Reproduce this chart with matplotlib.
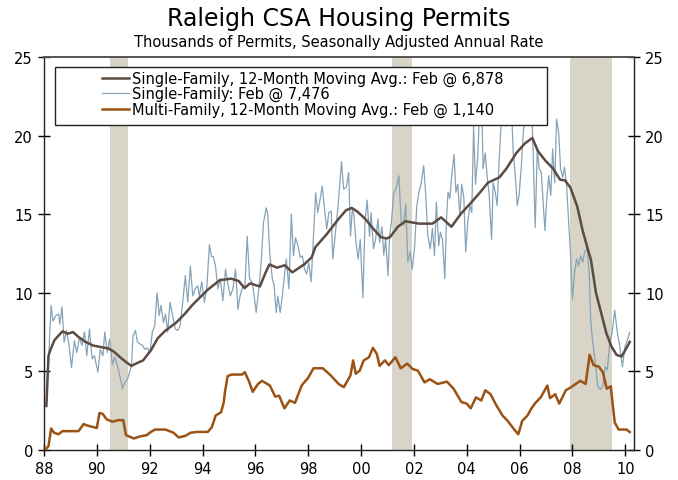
import matplotlib
matplotlib.use("Agg")
import matplotlib.pyplot as plt
from matplotlib.patches import Rectangle

# ---------------- data ----------------
raw_years = [1988.09,1988.27,1988.34,1988.45,1988.55,1988.60,1988.68,1988.76,1988.85,1988.95,
 1989.04,1989.15,1989.24,1989.34,1989.44,1989.53,1989.62,1989.72,1989.82,1989.91,
 1990.04,1990.13,1990.23,1990.30,1990.40,1990.48,1990.59,1990.68,1990.78,1990.87,1990.97,
 1991.06,1991.16,1991.22,1991.31,1991.37,1991.46,1991.54,1991.63,1991.73,1991.82,1991.91,
 1992.01,1992.10,1992.19,1992.28,1992.36,1992.43,1992.52,1992.60,1992.68,1992.77,1992.87,1992.97,
 1993.06,1993.15,1993.25,1993.35,1993.44,1993.54,1993.63,1993.72,1993.82,1993.88,1993.97,
 1994.07,1994.16,1994.26,1994.34,1994.41,1994.49,1994.58,1994.67,1994.77,1994.87,1994.96,
 1995.05,1995.15,1995.25,1995.34,1995.42,1995.53,1995.60,1995.69,1995.78,1995.87,1995.94,
 1996.03,1996.13,1996.22,1996.31,1996.41,1996.47,1996.54,1996.64,1996.71,1996.79,1996.85,1996.94,
 1997.02,1997.10,1997.17,1997.27,1997.36,1997.44,1997.52,1997.61,1997.70,1997.78,1997.86,1997.94,
 1998.02,1998.11,1998.17,1998.28,1998.36,1998.43,1998.53,1998.62,1998.70,1998.78,1998.87,1998.93,
 1999.03,1999.12,1999.19,1999.26,1999.34,1999.44,1999.53,1999.60,1999.67,1999.73,1999.82,1999.89,1999.97,
 2000.07,2000.15,2000.23,2000.32,2000.38,2000.47,2000.55,2000.64,2000.70,2000.79,2000.86,2000.93,
 2001.02,2001.08,2001.15,2001.23,2001.33,2001.43,2001.52,2001.61,2001.69,2001.77,2001.86,2001.94,
 2002.03,2002.11,2002.19,2002.28,2002.37,2002.44,2002.53,2002.62,2002.70,2002.78,2002.85,2002.94,
 2003.00,2003.08,2003.17,2003.23,2003.29,2003.36,2003.43,2003.52,2003.59,2003.66,2003.74,2003.81,2003.89,2003.96,
 2004.04,2004.12,2004.19,2004.26,2004.33,2004.41,2004.48,2004.55,2004.62,2004.70,2004.77,2004.85,2004.94,
 2005.00,2005.08,2005.15,2005.23,2005.32,2005.40,2005.48,2005.54,2005.61,2005.68,2005.76,2005.83,2005.91,2005.98,
 2006.06,2006.14,2006.21,2006.29,2006.36,2006.44,2006.52,2006.59,2006.67,2006.74,2006.82,2006.89,2006.96,
 2007.02,2007.10,2007.18,2007.25,2007.33,2007.40,2007.48,2007.55,2007.63,2007.70,2007.78,2007.85,2007.93,
 2008.00,2008.08,2008.16,2008.23,2008.31,2008.39,2008.46,2008.56,2008.64,2008.69,2008.76,2008.85,2008.96,
 2009.06,2009.15,2009.24,2009.32,2009.41,2009.50,2009.60,2009.70,2009.79,2009.89,2009.99,2010.08,2010.17]
raw_sf = [2.8,9.2,8.2,8.55,8.65,8.0,9.1,6.85,7.6,6.65,
 5.25,6.95,6.2,7.15,6.65,7.5,6.0,7.7,5.8,6.0,
 4.95,6.4,6.0,7.5,6.2,7.05,5.45,5.9,5.35,4.7,3.9,
 4.3,4.5,4.85,5.35,7.25,7.6,6.85,6.75,6.65,6.4,6.5,
 6.2,7.5,7.9,10.0,8.55,9.2,8.1,8.65,7.5,9.4,8.55,7.7,
 7.6,7.9,9.4,11.1,9.4,11.7,9.8,10.25,10.45,9.8,10.7,
 9.4,10.25,13.05,12.3,12.3,11.7,10.25,10.9,9.5,11.5,10.55,
 9.8,10.25,11.5,8.95,9.8,10.45,10.25,13.6,10.9,10.7,10.0,
 8.75,10.25,11.95,14.5,15.4,15.0,12.6,10.9,10.45,8.75,9.8,8.75,
 9.8,11.1,12.15,10.25,15.0,12.35,13.5,13.0,12.25,12.35,11.5,11.2,
 11.9,10.7,12.6,16.35,15.1,15.75,16.8,15.3,14.05,15.1,15.2,12.15,
 13.85,15.35,16.8,18.35,16.6,16.7,17.65,13.6,15.35,14.9,13.0,12.15,13.4,
 9.7,14.5,15.9,13.6,15.1,12.8,13.4,14.7,13.2,14.2,12.4,13.4,
 11.1,13.6,14.5,16.3,16.7,17.45,14.5,14.3,15.65,11.95,12.6,11.5,
 13.0,15.55,16.4,17.0,18.1,16.4,13.6,12.8,14.1,12.35,15.75,13.0,
 13.85,13.4,10.9,14.5,16.4,16.0,17.45,18.8,16.4,16.9,14.9,16.9,16.0,12.6,
 14.5,15.55,15.1,20.6,16.9,18.5,21.3,23.2,17.9,18.9,17.45,16.2,13.4,
 17.0,16.4,15.55,18.5,21.4,21.9,20.6,21.9,21.05,22.3,18.9,17.65,15.55,16.2,
 17.9,20.2,21.05,22.3,21.4,23.0,18.5,14.15,19.15,17.9,17.65,15.75,13.95,
 15.75,17.45,16.2,19.15,17.0,21.05,20.2,17.9,17.35,18.0,16.8,14.7,12.35,
 9.6,11.3,12.15,11.7,12.35,11.95,12.6,12.8,11.1,8.3,7.0,5.75,4.05,
 3.85,4.05,5.3,5.1,6.8,7.45,8.9,7.45,6.6,5.3,6.6,7.0,7.48]

sf_ma_years = [1988.09,1988.17,1988.25,1988.40,1988.70,1988.90,1989.10,1989.30,1989.55,1989.85,
 1990.15,1990.45,1990.65,1990.95,1991.30,1991.55,1991.75,1992.05,1992.30,1992.60,
 1993.00,1993.35,1993.63,1994.20,1994.65,1995.08,1995.37,1995.59,1995.80,1996.17,
 1996.39,1996.53,1996.82,1997.11,1997.40,1997.84,1998.13,1998.27,1998.71,1999.15,
 1999.43,1999.65,1999.87,2000.16,2000.45,2000.74,2000.96,2001.10,2001.39,2001.68,
 2002.19,2002.70,2003.03,2003.42,2003.79,2004.20,2004.51,2004.80,2005.24,2005.50,
 2005.88,2006.20,2006.48,2006.70,2006.98,2007.27,2007.53,2007.72,2007.92,2008.18,
 2008.38,2008.57,2008.70,2008.89,2009.09,2009.28,2009.47,2009.67,2009.86,2010.05,2010.17]
sf_ma = [2.8,6.0,6.4,7.0,7.55,7.4,7.5,7.2,6.9,6.65,
 6.55,6.45,6.25,5.8,5.35,5.55,5.7,6.35,7.1,7.6,
 8.1,8.7,9.25,10.2,10.8,10.9,10.75,10.3,10.6,10.4,
 11.3,11.8,11.6,11.75,11.3,11.8,12.25,12.9,13.75,14.7,
 15.25,15.4,15.15,14.7,14.1,13.55,13.45,13.55,14.2,14.55,
 14.4,14.4,14.8,14.2,15.05,15.8,16.4,17.0,17.35,17.9,
 18.9,19.5,19.85,19.0,18.4,17.9,17.2,17.15,16.7,15.5,
 14.0,12.85,12.1,10.0,8.7,7.45,6.6,6.05,5.95,6.5,6.88]

mf_ma_years = [1988.09,1988.17,1988.27,1988.38,1988.55,1988.70,1989.00,1989.30,1989.35,1989.50,
 1989.65,1990.00,1990.10,1990.22,1990.37,1990.60,1990.80,1991.00,1991.10,1991.40,
 1991.60,1991.90,1992.00,1992.20,1992.60,1992.90,1993.10,1993.35,1993.55,1993.80,
 1994.20,1994.35,1994.50,1994.70,1994.80,1994.85,1994.95,1995.10,1995.50,1995.60,
 1995.75,1995.90,1996.10,1996.25,1996.55,1996.75,1996.90,1997.10,1997.30,1997.50,
 1997.75,1998.00,1998.20,1998.55,1998.85,1999.15,1999.35,1999.60,1999.70,1999.80,
 1999.95,2000.10,2000.30,2000.45,2000.60,2000.70,2000.90,2001.05,2001.30,2001.50,
 2001.75,2001.95,2002.15,2002.40,2002.60,2002.90,2003.25,2003.50,2003.80,2004.00,
 2004.15,2004.35,2004.55,2004.70,2004.90,2005.10,2005.35,2005.55,2005.80,2005.95,
 2006.10,2006.30,2006.45,2006.60,2006.80,2007.05,2007.15,2007.35,2007.50,2007.75,
 2007.95,2008.30,2008.50,2008.65,2008.80,2009.00,2009.15,2009.30,2009.45,2009.60,
 2009.75,2010.05,2010.17]
mf_ma = [0.1,0.25,1.37,1.1,1.0,1.2,1.2,1.2,1.3,1.65,
 1.55,1.4,2.35,2.3,1.95,1.8,1.9,1.9,0.95,0.73,
 0.85,0.95,1.1,1.3,1.3,1.1,0.8,0.9,1.1,1.15,
 1.15,1.45,2.2,2.4,3.0,3.7,4.7,4.8,4.8,4.95,
 4.4,3.7,4.2,4.4,4.1,3.4,3.45,2.65,3.15,3.0,
 4.1,4.6,5.2,5.2,4.75,4.2,4.0,4.75,5.7,4.85,
 5.05,5.7,5.9,6.5,6.1,5.35,5.7,5.4,5.9,5.2,
 5.5,5.15,5.05,4.3,4.5,4.2,4.35,3.9,3.05,2.95,
 2.65,3.35,3.15,3.8,3.55,2.9,2.2,1.85,1.3,1.0,
 1.85,2.2,2.65,3.0,3.35,4.1,3.3,3.55,2.95,3.8,
 4.0,4.4,4.2,6.05,5.4,5.3,4.95,3.9,4.05,1.75,
 1.3,1.3,1.14]

recessions = [(1990.48, 1991.17), (2001.18, 2001.92), (2007.90, 2009.50)]
x_ticks = [1988, 1990, 1992, 1994, 1996, 1998, 2000, 2002, 2004, 2006, 2008, 2010]
x_labels = ["88", "90", "92", "94", "96", "98", "00", "02", "04", "06", "08", "10"]
y_ticks = [0, 5, 10, 15, 20, 25]

legend_labels = ["Single-Family, 12-Month Moving Avg.: Feb @ 6,878",
                 "Single-Family: Feb @ 7,476",
                 "Multi-Family, 12-Month Moving Avg.: Feb @ 1,140"]

# ---------------- styling ----------------
C_MA = "#5b4b42"
C_RAW = "#86a3b8"
C_MF = "#9a5314"
C_REC = "#d8d4c8"

plt.rcParams["font.family"] = ["DejaVu Sans"]

W, H = 678, 481
fig = plt.figure(figsize=(W/100, H/100), dpi=100)
ax = fig.add_axes([44/W, 1 - 451/H, (634 - 44)/W, (451 - 58)/H])

for a, b in recessions:
    ax.axvspan(a, b, color=C_REC, lw=0, zorder=0)

l2, = ax.plot(raw_years, raw_sf, color=C_RAW, lw=0.9, zorder=2)
l1, = ax.plot(sf_ma_years, sf_ma, color=C_MA, lw=1.8, zorder=3)
l3, = ax.plot(mf_ma_years, mf_ma, color=C_MF, lw=1.8, zorder=4)

ax.set_xlim(1988.0, 2010.33)
ax.set_ylim(0, 25)
ax.set_xticks(x_ticks)
ax.set_xticklabels(x_labels)
ax.set_yticks(y_ticks)
ax.tick_params(axis="both", direction="inout", length=8, width=1, labelsize=10.5,
               colors="black")
ax.tick_params(axis="y", left=True, right=True, labelleft=True, labelright=True, pad=4)
ax.tick_params(axis="x", pad=4)
for s in ax.spines.values():
    s.set_linewidth(1.0)
    s.set_color("#222222")
ax.spines["top"].set_color("#555555")
ax.spines["top"].set_linewidth(1.4)

# legend box drawn as a patch (figure-pixel placement converted to figure fraction)
box = Rectangle((55/W, 1 - 126/H), 492/W, 58/H, transform=fig.transFigure,
                facecolor="white", edgecolor="#222222", lw=1.0, zorder=5,
                clip_on=False)
ax.add_patch(box)
leg = ax.legend([l1, l2, l3], legend_labels, loc="upper left",
                bbox_to_anchor=(93/W, 1 - 63/H), bbox_transform=fig.transFigure,
                frameon=False, fontsize=10.5, handlelength=1.9, handletextpad=0.15,
                labelspacing=0.02, borderpad=0.1)
leg.set_zorder(6)

fig.text(0.5, 1 - 19/H, "Raleigh CSA Housing Permits", ha="center", va="center",
         fontsize=17)
fig.text(0.5, 1 - 43/H, "Thousands of Permits, Seasonally Adjusted Annual Rate",
         ha="center", va="center", fontsize=10.5)

fig.savefig("out.png", dpi=100)
